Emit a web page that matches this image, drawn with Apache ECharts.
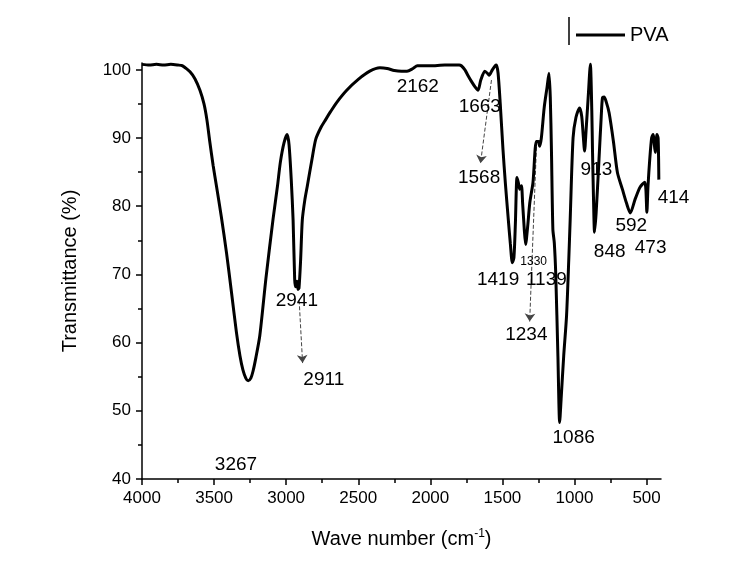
<!DOCTYPE html>
<html>
<head>
<meta charset="utf-8">
<script src="https://cdn.jsdelivr.net/npm/echarts@6/dist/echarts.min.js"></script>
<style>
html,body{margin:0;padding:0;background:#fff;}
#main{width:752px;height:571px;}
</style>
</head>
<body>
<div id="main"></div>
<script>
// ---- data ----
const wavenumber = [4000,3950,3900,3850,3800,3750,3720,3700,3667,3633,3598,3570,3550,3530,3506,3483,3450,3414,3380,3345,3320,3300,3280,3264,3245,3230,3210,3183,3140,3091,3060,3040,3015,2993,2980,2965,2952,2941,2935,2925,2918,2911,2900,2888,2870,2853,2820,2795,2760,2726,2691,2650,2580,2500,2420,2350,2300,2250,2200,2162,2120,2090,2000,1900,1800,1785,1760,1740,1715,1690,1669,1650,1622,1600,1593,1570,1550,1542,1530,1515,1496,1480,1461,1445,1431,1420,1410,1399,1390,1380,1368,1360,1348,1339,1325,1310,1288,1265,1250,1242,1230,1210,1190,1177,1168,1160,1150,1140,1130,1115,1103,1092,1075,1055,1040,1030,1010,990,965,950,940,930,920,905,890,880,875,868,861,850,830,815,806,795,780,760,730,702,668,640,613,580,548,530,513,505,498,490,478,465,455,440,428,420,415];
const transmittance = [100.8,100.7,100.8,100.7,100.8,100.7,100.6,100.3,99.7,98.7,97.0,95.0,92.7,89.5,85.9,82.9,78.5,73.2,67.5,61.5,58.0,56.0,54.8,54.4,54.8,55.8,57.8,61.0,69.5,78.1,83.0,86.5,89.3,90.5,89.0,84.0,78.0,69.3,68.2,69.0,67.8,68.0,72.0,78.0,81.0,83.0,87.0,89.8,91.5,92.7,93.9,95.2,97.0,98.6,99.8,100.3,100.2,99.9,99.8,99.8,100.2,100.6,100.6,100.7,100.7,100.6,100.0,99.2,98.3,97.5,97.0,98.5,99.8,99.4,99.2,100.0,100.6,100.7,99.5,95.0,88.3,83.5,78.5,74.5,71.7,72.5,77.5,84.2,83.5,82.5,83.0,80.5,76.5,74.4,77.0,80.5,83.5,89.5,89.5,88.8,90.0,94.5,97.5,99.5,96.0,88.3,76.6,74.6,70.0,58.0,48.3,52.0,58.0,64.0,72.0,78.0,90.0,93.0,94.4,93.2,90.5,88.1,91.0,96.0,100.8,94.0,88.0,81.0,76.2,79.0,86.9,93.0,95.9,96.0,95.3,93.7,89.5,84.9,82.5,80.5,79.0,81.0,82.7,83.2,83.5,82.5,79.1,83.0,86.9,90.0,90.5,87.9,90.5,90.0,83.9];

const xTickValues = [500,1000,1500,2000,2500,3000,3500,4000];
const xMinorTickValues = [750,1250,1750,2250,2750,3250,3750];
const yTickValues = [40,50,60,70,80,90,100];
const yMinorTickValues = [45,55,65,75,85,95];

// peak annotations: text, anchor wavenumber, anchor transmittance
const peakText = ['3267','2941','2911','2162','1663','1568','1419','1330','1139','1234','1086','913','848','592','473','414'];
const peakAnchorX = [3348,2926,2739,2087,1657,1662,1530,1283,1195,1334,1006,848,756,606,472,313];
const peakAnchorY = [42.1,66.2,54.5,97.5,94.6,84.1,69.2,71.9,69.2,61.1,46.1,85.3,73.3,77.2,73.9,81.2];

// dashed arrows: start [wavenumber, T] -> end [wavenumber, T]
const arrowStart = [[2910,66.2],[1576,98.5],[1264,88.7]];
const arrowEnd = [[2886,57.0],[1652,86.3],[1311,63.1]];

const FONT = 'Liberation Sans, Arial, sans-serif';

const lineData = wavenumber.map((w,i)=>[w, transmittance[i]]);
const labelData = peakText.map((t,i)=>({
  name: t,
  value: [peakAnchorX[i], peakAnchorY[i]],
  label: t === '1330' ? {fontSize: 12} : undefined
}));
const arrowData = arrowStart.map((s,i)=>({coords:[s, arrowEnd[i]]}));

const chart = echarts.init(document.getElementById('main'));
chart.setOption({
  animation: false,
  backgroundColor: '#fff',
  textStyle: {fontFamily: FONT},
  grid: {left: 142, right: 91, top: 63, bottom: 92},
  legend: {
    data: ['PVA'], left: 571, top: 20, icon: 'rect',
    itemWidth: 49, itemHeight: 3, itemGap: 5,
    textStyle: {fontSize: 20, color: '#000', fontFamily: FONT}
  },
  xAxis: [{
    type: 'value', min: 400, max: 4000, inverse: true, position: 'bottom',
    axisLine: {show: true, onZero: false, lineStyle: {color: '#000', width: 1.5}},
    axisTick: {show: true, customValues: xTickValues, length: 6, lineStyle: {color: '#000', width: 1.5}},
    axisLabel: {customValues: xTickValues, formatter: v => String(v), fontSize: 17, color: '#000', margin: 11, fontFamily: FONT},
    splitLine: {show: false},
    name: '{a|Wave number (cm}{s|-1}{a|)}',
    nameLocation: 'middle', nameGap: 46,
    nameTextStyle: {
      rich: {
        a: {fontSize: 20, color: '#000', fontFamily: FONT, lineHeight: 24, verticalAlign: 'bottom'},
        s: {fontSize: 12, color: '#000', fontFamily: FONT, lineHeight: 24, verticalAlign: 'bottom', padding: [0,0,9,0]}
      }
    }
  },{
    type: 'value', min: 400, max: 4000, inverse: true, position: 'bottom',
    axisLine: {show: false, onZero: false},
    axisTick: {show: true, customValues: xMinorTickValues, length: 4, lineStyle: {color: '#000', width: 1.5}},
    axisLabel: {show: false},
    splitLine: {show: false}
  }],
  yAxis: [{
    type: 'value', min: 40, max: 101, position: 'left',
    axisLine: {show: true, onZero: false, lineStyle: {color: '#000', width: 1.5}},
    axisTick: {show: true, customValues: yTickValues, length: 6, lineStyle: {color: '#000', width: 1.5}},
    axisLabel: {customValues: yTickValues, formatter: v => String(v), fontSize: 17, color: '#000', margin: 11, fontFamily: FONT},
    splitLine: {show: false},
    name: 'Transmittance (%)', nameLocation: 'middle', nameGap: 62,
    nameTextStyle: {fontSize: 20, color: '#000', fontFamily: FONT}
  },{
    type: 'value', min: 40, max: 101, position: 'left',
    axisLine: {show: false, onZero: false},
    axisTick: {show: true, customValues: yMinorTickValues, length: 4, lineStyle: {color: '#000', width: 1.5}},
    axisLabel: {show: false},
    splitLine: {show: false}
  }],
  series: [{
    name: 'PVA', type: 'line', data: lineData,
    xAxisIndex: 0, yAxisIndex: 0,
    showSymbol: false, symbol: 'none', smooth: 0.25,
    lineStyle: {color: '#000', width: 3},
    itemStyle: {color: '#000'},
    z: 3
  },{
    name: 'labels', type: 'scatter', data: labelData,
    xAxisIndex: 0, yAxisIndex: 0,
    symbolSize: 0, clip: false, silent: true,
    itemStyle: {opacity: 1, color: '#000'},
    label: {show: true, position: 'inside', formatter: '{b}', fontSize: 19, color: '#000', opacity: 1,
            textBorderWidth: 0, fontFamily: FONT},
    z: 4
  },{
    name: 'arrows', type: 'lines', coordinateSystem: 'cartesian2d',
    xAxisIndex: 0, yAxisIndex: 0,
    data: arrowData,
    symbol: ['none','arrow'], symbolSize: 8,
    lineStyle: {type: 'dashed', color: '#444', width: 1, opacity: 1},
    silent: true, z: 2
  }],
  graphic: [{
    type: 'line', shape: {x1: 569, y1: 17, x2: 569, y2: 45},
    style: {stroke: '#000', lineWidth: 1.5}
  }]
});
</script>
</body>
</html>
